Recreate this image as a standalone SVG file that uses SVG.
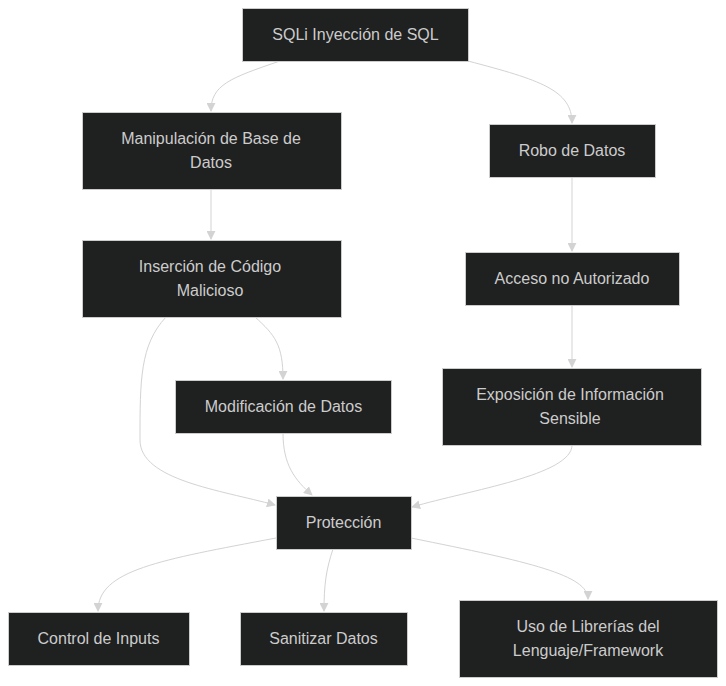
<svg xmlns="http://www.w3.org/2000/svg" width="726" height="686" viewBox="0 0 726 686">
<style>
.n rect{fill:#1f2020;stroke:#cccccc;stroke-width:1}
.n text{font-family:"Liberation Sans",Arial,sans-serif;font-size:16px;fill:#cccccc;text-anchor:middle;dominant-baseline:central}
.e path{fill:none;stroke:#d3d3d3;stroke-width:1}
</style>
<defs>
<marker id="ah" viewBox="0 0 10 10" refX="9" refY="5" markerWidth="9" markerHeight="9" markerUnits="userSpaceOnUse" orient="auto">
<path d="M0,0 L10,5 L0,10 z" fill="#d3d3d3"/>
</marker>
</defs>
<rect width="726" height="686" fill="#ffffff"/>
<g class="e" id="connectors">
<path marker-end="url(#ah)" d="M280,61 C230,78 211,85 211,111"/>
<path marker-end="url(#ah)" d="M468,61 C540,80 572,90 572,123"/>
<path marker-end="url(#ah)" d="M211,189 L211,239"/>
<path marker-end="url(#ah)" d="M572,177 L572,251"/>
<path marker-end="url(#ah)" d="M572,305 L572,367"/>
<path marker-end="url(#ah)" d="M255,317 C275,335 283,345 283,379"/>
<path marker-end="url(#ah)" d="M166,317 C140,345 140,380 140,440 C140,480 220,490 275,505"/>
<path marker-end="url(#ah)" d="M283,433 C283,465 295,480 312,495"/>
<path marker-end="url(#ah)" d="M572,445 C572,475 470,490 412,507"/>
<path marker-end="url(#ah)" d="M276,538 C160,560 98,570 98,611"/>
<path marker-end="url(#ah)" d="M333,549 C326,570 324,585 324,611"/>
<path marker-end="url(#ah)" d="M411,538 C530,562 588,575 588,599"/>
</g>
<g class="n" id="sqli"><rect x="242.5" y="8.5" width="226" height="53"/><text x="355.5" y="34">SQLi Inyección de SQL</text></g>
<g class="n" id="manipulacion"><rect x="82.5" y="112.5" width="259" height="77"/><text x="211" y="138">Manipulación de Base de</text><text x="211" y="162">Datos</text></g>
<g class="n" id="robo"><rect x="489.5" y="124.5" width="166" height="53"/><text x="572" y="150">Robo de Datos</text></g>
<g class="n" id="insercion"><rect x="82.5" y="240.5" width="259" height="77"/><text x="210" y="266">Inserción de Código</text><text x="210" y="290">Malicioso</text></g>
<g class="n" id="acceso"><rect x="465.5" y="252.5" width="214" height="53"/><text x="572" y="278">Acceso no Autorizado</text></g>
<g class="n" id="modificacion"><rect x="175.5" y="380.5" width="216" height="53"/><text x="283.5" y="406">Modificación de Datos</text></g>
<g class="n" id="exposicion"><rect x="442.5" y="368.5" width="259" height="77"/><text x="570" y="394">Exposición de Información</text><text x="570" y="418">Sensible</text></g>
<g class="n" id="proteccion"><rect x="276.5" y="496.5" width="135" height="53"/><text x="343.5" y="522">Protección</text></g>
<g class="n" id="control"><rect x="8.5" y="612.5" width="181" height="53"/><text x="98.5" y="638">Control de Inputs</text></g>
<g class="n" id="sanitizar"><rect x="240.5" y="612.5" width="167" height="53"/><text x="323.5" y="638">Sanitizar Datos</text></g>
<g class="n" id="uso"><rect x="459.5" y="600.5" width="258" height="77"/><text x="588" y="626">Uso de Librerías del</text><text x="588" y="650">Lenguaje/Framework</text></g>
</svg>
